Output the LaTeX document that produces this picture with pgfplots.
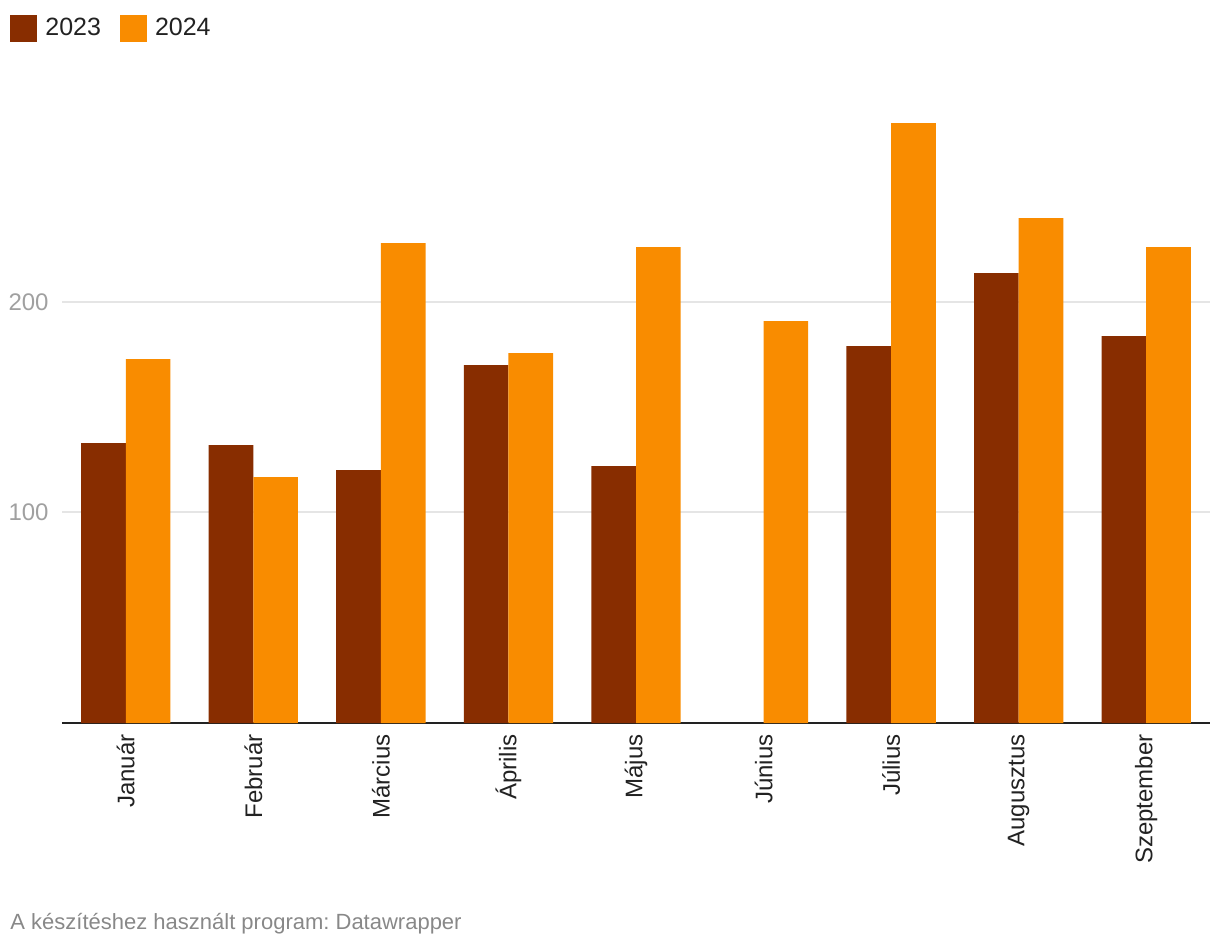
\documentclass[border=0pt]{standalone}
\usepackage{pgfplots}
\pgfplotsset{compat=1.18}
\usepackage{fontspec}
\setmainfont{Liberation Sans}
\frenchspacing

\definecolor{c2023}{HTML}{882D00}
\definecolor{c2024}{HTML}{F98C00}
\definecolor{gridgray}{HTML}{E5E5E5}
\definecolor{tickgray}{HTML}{A0A0A0}
\definecolor{footgray}{HTML}{888888}
\definecolor{textdark}{HTML}{222222}

\begin{document}
\begin{tikzpicture}
\useasboundingbox (-31pt,-110.5pt) rectangle (579pt,361.5pt);
\begin{axis}[
    at={(0,0)}, anchor=south west,
    scale only axis,
    width=574pt, height=315.9pt,
    xmin=-0.5, xmax=8.5,
    ymin=0, ymax=300,
    ybar=0pt,
    bar width=0.35,
    xtick={0,1,2,3,4,5,6,7,8},
    xticklabels={Január,Február,Március,Április,Május,Június,Július,Augusztus,Szeptember},
    xticklabel style={rotate=90, anchor=east, inner sep=5.5pt,
        font=\fontsize{12}{14}\selectfont, text=textdark},
    ytick={100,200},
    yticklabel style={anchor=east, inner sep=0pt, xshift=-6.5pt,
        font=\fontsize{12}{14}\selectfont, text=tickgray},
    /pgf/number format/assume math mode=true,
    major tick length=0pt,
    ymajorgrids,
    grid style={color=gridgray, line width=1pt},
    axis x line*=bottom,
    axis y line*=left,
    y axis line style={draw=none},
    x axis line style={line width=0.8pt, color=textdark},
    legend style={at={(axis description cs:-0.0453,1.122)}, anchor=north west,
        draw=none, fill=none, inner sep=0pt, legend columns=-1,
        font=\fontsize{12.5}{14}\selectfont, text=textdark,
        nodes={inner xsep=4pt},
        /tikz/every even column/.append style={column sep=5.5pt}},
    legend image code/.code={\fill[#1] (0pt,-6.75pt) rectangle (13.5pt,6.75pt);},
    clip=false,
]
\addplot[fill=c2023, draw=none] coordinates {
    (0,132.9) (1,132.0) (2,120.1) (3,169.9) (4,122.0)
    (6,179.0) (7,213.6) (8,183.7)};
\addlegendentry{2023}
\addplot[fill=c2024, draw=none] coordinates {
    (0,172.8) (1,116.8) (2,227.9) (3,175.6) (4,226.0)
    (5,190.8) (6,284.9) (7,239.7) (8,226.0)};
\addlegendentry{2024}
\end{axis}
\node[anchor=base west, inner sep=0pt, text=footgray,
    font=\fontsize{11}{13}\selectfont] at (-26pt,-103pt)
    {A készítéshez használt program: Datawrapper};
\end{tikzpicture}
\end{document}
